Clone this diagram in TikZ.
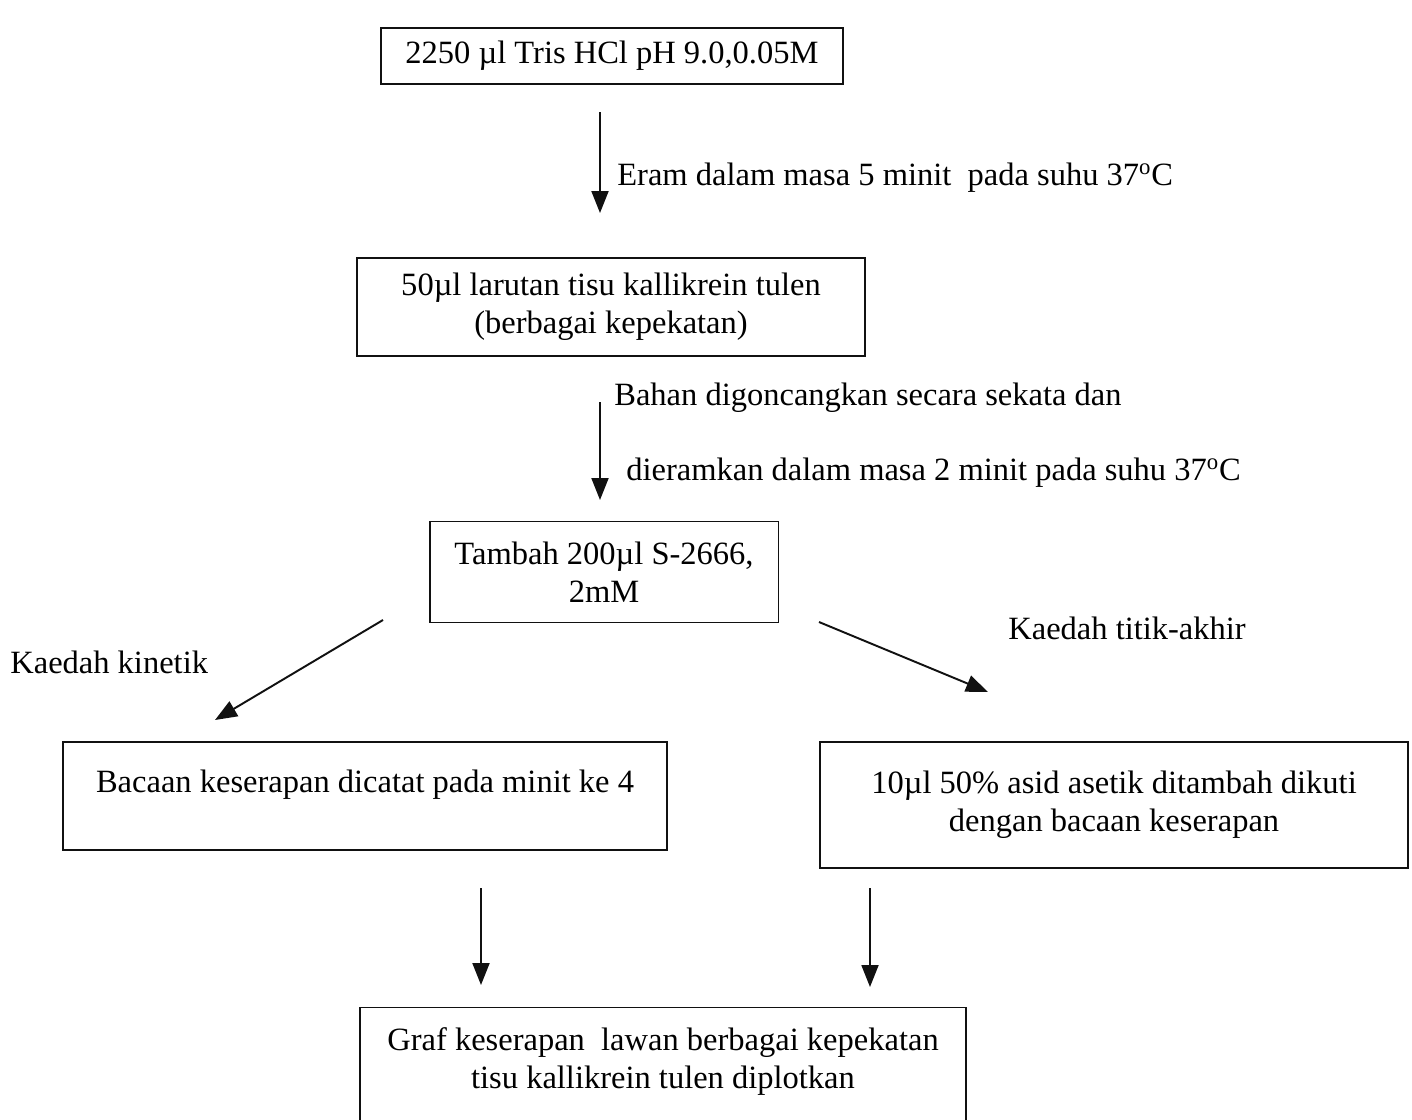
\documentclass[tikz,border=0pt]{standalone}
\usepackage{fontspec}
\setmainfont{Liberation Serif}
\usetikzlibrary{arrows.meta}
\definecolor{InkBlack}{HTML}{111111}
\tikzset{
  stepbox/.style={rectangle, draw=InkBlack, line width=1.1pt, fill=white,
                align=center, inner sep=0pt, font=\fontsize{18.5}{21.6}\selectfont},
  steparrow/.style={-{Triangle[length=0.44cm, width=0.34cm]}, line width=1.1pt, InkBlack, #1},
  steplabel/.style={anchor=west, inner sep=0pt, font=\fontsize{18.5}{21.6}\selectfont},
}

\begin{document}
\begin{tikzpicture}[x=0.02cm, y=-0.02cm]
    % Coordinate map (pixels of the page, y downward):
    % (Tris)   at (612, 56)    — 462 x 56
    % (Tisu)   at (611, 307)   — 509 x 98
    % (Substr) at (604, 572)   — 349 x 101
    % (Kinet)  at (365, 796)   — 604 x 108
    % (Akhir)  at (1114, 805)  — 588 x 126
    % (Graf)   at (663, 1066)  — 607 x 117
    \useasboundingbox (0,0) rectangle (1412,1119);

    \node[stepbox, minimum width=9.24cm, minimum height=1.12cm] (Tris) at (612, 56)
        {2250 µl Tris HCl pH 9.0,0.05M};
    \node[stepbox, minimum width=10.18cm, minimum height=1.96cm] (Tisu) at (611, 307)
        {50µl larutan tisu kallikrein tulen\\(berbagai kepekatan)};
    \node[stepbox, minimum width=6.98cm, minimum height=2.02cm] (Substr) at (604, 572)
        {Tambah 200µl S-2666,\\2mM};
    \node[stepbox, minimum width=12.08cm, minimum height=2.16cm, text depth=0.6cm] (Kinet) at (365, 796)
        {Bacaan keserapan dicatat pada minit ke 4};
    \node[stepbox, minimum width=11.76cm, minimum height=2.52cm] (Akhir) at (1114, 805)
        {10µl 50\% asid asetik ditambah dikuti\\dengan bacaan keserapan};
    \node[stepbox, minimum width=12.14cm, minimum height=2.34cm, text depth=0.3cm] (Graf) at (663, 1066)
        {Graf keserapan\ \ lawan berbagai kepekatan\\tisu kallikrein tulen diplotkan};

    % arrow ends
    \coordinate (TrisOut) at (600, 112);  \coordinate (TisuIn) at (600, 213);
    \coordinate (TisuOut) at (600, 402);  \coordinate (SubstrIn) at (600, 500);
    \coordinate (SubstrL) at (383, 620);  \coordinate (KinetIn) at (215, 720);
    \coordinate (SubstrR) at (819, 622);  \coordinate (AkhirIn) at (988, 692);
    \coordinate (KinetOut) at (481, 888); \coordinate (GrafL) at (481, 985);
    \coordinate (AkhirOut) at (870, 888); \coordinate (GrafR) at (870, 987);

    \draw[steparrow={}] (TrisOut) -- (TisuIn);
    \draw[steparrow={}] (TisuOut) -- (SubstrIn);
    \draw[steparrow={}] (SubstrL) -- (KinetIn);
    \draw[steparrow={}] (SubstrR) -- (AkhirIn);
    \draw[steparrow={}] (KinetOut) -- (GrafL);
    \draw[steparrow={}] (AkhirOut) -- (GrafR);

    \node[steplabel] (EramLbl) at (617, 178) {Eram dalam masa 5 minit\ \ pada suhu 37\textsuperscript{o}C};
    \node[steplabel] (BahanLbl) at (614, 398) {Bahan digoncangkan secara sekata dan};
    \node[steplabel] (DieramLbl) at (626, 473) {dieramkan dalam masa 2 minit pada suhu 37\textsuperscript{o}C};
    \node[steplabel] (KinetLbl) at (10, 662) {Kaedah kinetik};
    \node[steplabel] (AkhirLbl) at (1008, 628) {Kaedah titik-akhir};
    \end{tikzpicture}
\end{document}
